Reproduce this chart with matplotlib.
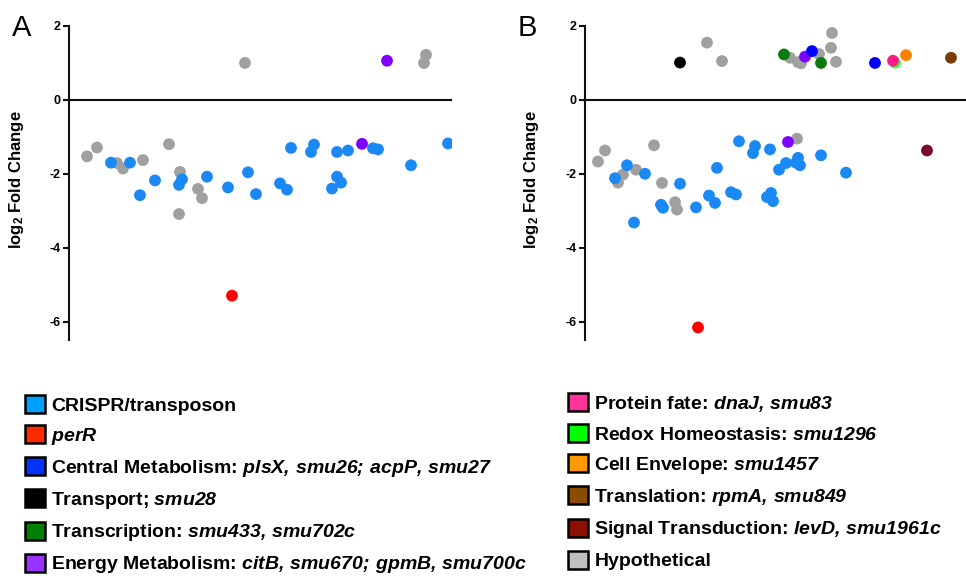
import matplotlib
matplotlib.use("Agg")
import matplotlib.pyplot as plt
from matplotlib.patches import Patch

plt.rcParams['font.family'] = ['Liberation Sans', 'DejaVu Sans']
plt.rcParams['axes.unicode_minus'] = False
plt.rcParams['mathtext.fontset'] = 'custom'
plt.rcParams['mathtext.it'] = 'Liberation Sans:italic:bold'
plt.rcParams['mathtext.rm'] = 'Liberation Sans:italic:bold'
plt.rcParams['mathtext.bf'] = 'Liberation Sans:bold'

# ---------------- data ----------------
categories = ["CRISPR/transposon", "perR", "Central Metabolism", "Transport",
              "Transcription", "Energy Metabolism", "Protein fate",
              "Redox Homeostasis", "Cell Envelope", "Translation",
              "Signal Transduction", "Hypothetical"]
legend_labels = [
    "CRISPR/transposon",
    r"$perR$",
    r"Central Metabolism: $plsX{,}\ smu26;\,acpP{,}\ smu27$",
    r"Transport; $smu28$",
    r"Transcription: $smu433{,}\ smu702c$",
    r"Energy Metabolism: $citB{,}\ smu670;\,gpmB{,}\ smu700c$",
    r"Protein fate: $dnaJ{,}\ smu83$",
    r"Redox Homeostasis: $smu1296$",
    r"Cell Envelope: $smu1457$",
    r"Translation: $rpmA{,}\ smu849$",
    r"Signal Transduction: $levD{,}\ smu1961c$",
    "Hypothetical",
]
point_colors = ["#1a88f5", "#ff0000", "#0000ff", "#000000", "#0a7a0a", "#8000ff",
                "#ff1a8c", "#33ff33", "#ff8000", "#7a3c00", "#7a0a33", "#a0a0a0"]
legend_colors = ["#00a0ff", "#ff2a00", "#0033ff", "#000000", "#008000", "#9933ff",
                 "#ff3399", "#00ff00", "#ff9900", "#8b4c00", "#8b1000", "#c0c0c0"]

# Panel A
A_hyp_x = [18, 28, 48, 54, 74, 100, 111, 110, 129, 133, 176, 357, 355]
A_hyp_y = [-1.53, -1.29, -1.71, -1.86, -1.63, -1.20, -1.95, -3.09, -2.41, -2.66, 1.00, 1.22, 1.00]
A_crispr_x = [42, 61, 71, 86, 110, 113, 138, 159, 179, 187, 222, 211, 218, 242, 245,
              268, 279, 268, 272, 263, 304, 309, 342, 379]
A_crispr_y = [-1.70, -1.70, -2.58, -2.18, -2.30, -2.15, -2.08, -2.37, -1.96, -2.55,
              -1.30, -2.26, -2.43, -1.41, -1.21, -1.41, -1.37, -2.08, -2.24, -2.40,
              -1.31, -1.34, -1.77, -1.18]
A_energy_x = [293, 318]
A_energy_y = [-1.19, 1.06]
A_perR_x = [163]
A_perR_y = [-5.30]

# Panel B
B_hyp_x = [13, 20, 33, 38, 51, 69, 77, 90, 92, 122, 137, 205, 213, 216, 234, 246, 247, 251, 212]
B_hyp_y = [-1.67, -1.37, -2.24, -2.02, -1.89, -1.23, -2.25, -2.77, -2.97, 1.55, 1.05,
           1.14, 1.02, 0.99, 1.24, 1.41, 1.81, 1.03, -1.05]
B_crispr_x = [30, 42, 60, 49, 76, 78, 95, 111, 124, 130, 132, 146, 151, 154, 170, 168,
              182, 186, 188, 185, 194, 201, 213, 211, 215, 236, 261]
B_crispr_y = [-2.12, -1.77, -2.00, -3.32, -2.84, -2.92, -2.27, -2.91, -2.59, -2.79,
              -1.84, -2.50, -2.56, -1.12, -1.25, -1.44, -2.63, -2.52, -2.74, -1.34,
              -1.89, -1.71, -1.57, -1.70, -1.77, -1.50, -1.97]
B_perR_x, B_perR_y = [113], [-6.16]
B_central_x, B_central_y = [227, 290], [1.32, 1.00]
B_transport_x, B_transport_y = [95], [1.01]
B_transcription_x, B_transcription_y = [199, 236], [1.23, 1.00]
B_energy_x, B_energy_y = [203, 220], [-1.14, 1.17]
B_redox_x, B_redox_y = [310], [1.01]
B_protein_x, B_protein_y = [308], [1.06]
B_envelope_x, B_envelope_y = [321], [1.21]
B_translation_x, B_translation_y = [366], [1.14]
B_signal_x, B_signal_y = [342], [-1.37]

yticks = [-6, -4, -2, 0, 2]

# draw order: hypothetical first, then CRISPR, then others
panelA = [(11, A_hyp_x, A_hyp_y), (0, A_crispr_x, A_crispr_y),
          (5, A_energy_x, A_energy_y), (1, A_perR_x, A_perR_y)]
panelB = [(11, B_hyp_x, B_hyp_y), (0, B_crispr_x, B_crispr_y),
          (1, B_perR_x, B_perR_y), (3, B_transport_x, B_transport_y),
          (4, B_transcription_x, B_transcription_y), (5, B_energy_x, B_energy_y),
          (2, B_central_x, B_central_y), (7, B_redox_x, B_redox_y),
          (6, B_protein_x, B_protein_y), (8, B_envelope_x, B_envelope_y),
          (9, B_translation_x, B_translation_y), (10, B_signal_x, B_signal_y)]

W, H = 966, 576
fig = plt.figure(figsize=(W / 100, H / 100), dpi=100)

def make_axes(left_px, width_px):
    return fig.add_axes([left_px / W, 1 - 340 / H, width_px / W, 314 / H])

axA = make_axes(69, 383)
axB = make_axes(585, 381)

for ax, data, xmax, letter, lx, ylx in [(axA, panelA, 383, "A", 12, 26),
                                          (axB, panelB, 381, "B", 518, 541)]:
    for idx, xs, ys in data:
        ax.scatter(xs, ys, s=72, color=point_colors[idx], edgecolors='none', zorder=3)
    ax.axhline(0, color='#111111', lw=1.5, zorder=2)
    ax.set_xlim(0, xmax)
    ax.set_ylim(-6.5, 2)
    ax.set_yticks(yticks)
    ax.set_yticklabels([str(t) for t in yticks], fontweight='bold', fontsize=9)
    ax.set_xticks([])
    for s in ['top', 'right', 'bottom']:
        ax.spines[s].set_visible(False)
    ax.spines['left'].set_linewidth(1.5)
    ax.spines['left'].set_color('#111111')
    ax.tick_params(axis='y', direction='out', length=4, width=1.5, pad=2, color='#111111')
    ax.set_ylabel(r"log$_\mathbf{2}$ Fold Change", fontweight='bold', fontsize=12)
    ax.yaxis.set_label_coords(ylx / W, 1 - 180 / H, transform=fig.transFigure)
    fig.text(lx / W, 1 - 36 / H, letter, fontsize=21, ha='left', va='baseline')

handles = [Patch(facecolor=legend_colors[i], edgecolor='black', linewidth=1.8,
                 label=legend_labels[i]) for i in range(len(categories))]

common = dict(frameon=False, handlelength=1.05, handleheight=1.05,
              handletextpad=0.3, labelspacing=0.54, borderpad=0, borderaxespad=0,
              loc='upper left', prop={'weight': 'bold', 'size': 14})
fig.legend(handles=handles[:6], bbox_to_anchor=(25 / W, 1 - 395 / H), **common)
fig.legend(handles=handles[6:], bbox_to_anchor=(568 / W, 1 - 393 / H), **common)

fig.savefig("out.png", dpi=100)
